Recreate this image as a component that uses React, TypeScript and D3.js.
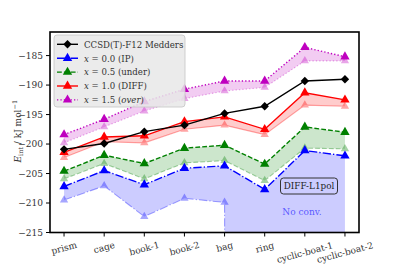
import * as d3 from 'd3';

// structures of the water hexamer
const structures = ['prism', 'cage', 'book-1', 'book-2', 'bag', 'ring', 'cyclic-boat-1', 'cyclic-boat-2'];

// reference energies (kJ/mol)
const medders = [-200.9, -199.9, -197.9, -196.8, -194.8, -193.6, -189.3, -189.0];

// dark = DIFF-L1pol, light = without polarisation (null = no convergence)
const ipDark = [-207.2, -204.5, -206.9, -204.1, -203.7, -207.7, -201.1, -202.0];
const ipLight: (number | null)[] = [-209.5, -207.1, -212.3, -209.2, -209.9, null, null, null];
const underDark = [-204.6, -201.9, -203.3, -200.7, -200.2, -203.4, -197.1, -198.0];
const underLight = [-205.9, -203.3, -205.9, -203.2, -202.8, -206.2, -200.7, -200.8];
const diffDark = [-201.4, -198.8, -198.6, -196.2, -195.4, -197.5, -191.3, -192.5];
const diffLight = [-202.3, -199.6, -199.8, -197.5, -196.8, -198.4, -193.4, -193.6];
const overDark = [-198.4, -195.8, -192.8, -190.7, -189.3, -189.3, -183.6, -185.2];
const overLight = [-199.8, -197.1, -194.4, -192.3, -191.0, -190.4, -185.9, -185.9];

const yTicks = [-215, -210, -205, -200, -195, -190, -185];

const series = [
    { label: 'x = 0.0', tag: '(IP)', color: '#0000ff', fill: 'rgba(0,0,255,0.2)', dash: '8.3,2.1,1.3,2.1', dark: ipDark, light: ipLight },
    { label: 'x = 0.5', tag: '(under)', color: '#008000', fill: 'rgba(0,128,0,0.2)', dash: '4.8,2.1', dark: underDark, light: underLight },
    { label: 'x = 1.0', tag: '(DIFF)', color: '#ff0000', fill: 'rgba(255,0,0,0.2)', dash: '', dark: diffDark, light: diffLight },
    { label: 'x = 1.5', tag: '(over)', color: '#bf00bf', fill: 'rgba(191,0,191,0.2)', dash: '1.3,2.1', dark: overDark, light: overLight },
];

const W = 399, H = 266;
const margin = { left: 50, right: 40, top: 32, bottom: 33.5 };
const font = "'DejaVu Serif', serif";

const tri = d3.symbol().type(d3.symbolTriangle).size(38)()!;
const triSmall = d3.symbol().type(d3.symbolTriangle).size(30)()!;
const diamond = 'M0,-4.2L4.2,0L0,4.2L-4.2,0Z';

export default function App() {
    const x = d3.scaleLinear().domain([-0.35, structures.length - 1 + 0.35]).range([margin.left, W - margin.right]);
    const y = d3.scaleLinear().domain([-215, -181]).range([H - margin.bottom, margin.top]);
    // "no conv." points are pushed far below the axis, like the original plot
    const floor = y.domain()[0] - 3000;
    const val = (v: number | null) => (v === null ? floor : v);

    const line = d3.line<number | null>().x((_, i) => x(i)).y(d => y(val(d)));
    const band = (a: number[], b: (number | null)[]) =>
        d3.area<number>().x((_, i) => x(i)).y0((_, i) => y(val(b[i]))).y1(d => y(d))(a)!;

    const x0 = x.range()[0], x1 = x.range()[1];
    const y0 = y.range()[1], y1 = y.range()[0];

    return (
        <svg width={W} height={H} style={{ position: 'absolute', left: 0, top: 0 }}>
            <defs>
                <clipPath id="plot"><rect x={x0} y={y0} width={x1 - x0} height={y1 - y0} /></clipPath>
            </defs>
            <rect width={W} height={H} fill="white" />
            <g clipPath="url(#plot)">
                {series.map(s => (
                    <path key={'f' + s.label} d={band(s.dark, s.light)} fill={s.fill} stroke="none" />
                ))}
                {series.map(s => (
                    <g key={'l' + s.label} opacity={0.35}>
                        <path d={line(s.light)!} fill="none" stroke={s.color} strokeWidth={1.1} strokeDasharray={s.dash} />
                        {s.light.map((v, i) => v === null ? null : (
                            <path key={i} d={triSmall} transform={`translate(${x(i)},${y(v)})`} fill={s.color} />
                        ))}
                    </g>
                ))}
                {series.map(s => (
                    <g key={'d' + s.label}>
                        <path d={line(s.dark)!} fill="none" stroke={s.color} strokeWidth={1.4} strokeDasharray={s.dash} />
                        {s.dark.map((v, i) => (
                            <path key={i} d={tri} transform={`translate(${x(i)},${y(v)})`} fill={s.color} />
                        ))}
                    </g>
                ))}
                <path d={line(medders)!} fill="none" stroke="black" strokeWidth={1.4} />
                {medders.map((v, i) => (
                    <path key={i} d={diamond} transform={`translate(${x(i)},${y(v)})`} fill="black" />
                ))}
            </g>

            <g style={{ fontFamily: font }}>
                {/* annotations */}
                <rect x={280.5} y={178} width={57} height={16} rx={3} fill="none" stroke="#333" strokeWidth={1} />
                <text x={309} y={189.2} fontSize={8.8} textAnchor="middle" fill="#222">DIFF-L1pol</text>
                <text x={302} y={215} fontSize={9} textAnchor="middle" fill="rgba(0,0,255,0.6)">No conv.</text>

                {/* legend */}
                <rect x={54} y={35} width={131} height={72} rx={3} fill="rgba(232,232,232,0.85)" stroke="#c4c4c4" strokeWidth={0.8} />
                {[{ label: 'CCSD(T)-F12 Medders', color: 'black', dash: '', tag: '' }, ...series].map((s, k) => {
                    const ly = 44.3 + k * 13.9;
                    return (
                        <g key={k}>
                            <line x1={57} x2={78} y1={ly} y2={ly} stroke={s.color} strokeWidth={1.4} strokeDasharray={s.dash} />
                            <path d={k === 0 ? diamond : tri} transform={`translate(67.5,${ly})`} fill={s.color} />
                            {k === 0 ? (
                                <text x={84} y={ly + 3.3} fontSize={8.6} fill="#333">{s.label}</text>
                            ) : (
                                <text x={84} y={ly + 3.3} fontSize={8.6} fill="#333">
                                    <tspan fontStyle="italic">x</tspan>
                                    {' ' + s.label.slice(2) + ' '}
                                    {s.tag === '(over)' ? (
                                        <>(<tspan fontStyle="italic">over</tspan>)</>
                                    ) : s.tag}
                                </text>
                            )}
                        </g>
                    );
                })}

                {/* frame */}
                <rect x={x0} y={y0} width={x1 - x0} height={y1 - y0} fill="none" stroke="black" strokeWidth={1.6} />

                {/* y axis */}
                {yTicks.map(t => (
                    <g key={t} transform={`translate(${x0},${y(t)})`}>
                        <line x1={-4} x2={0} stroke="black" strokeWidth={1} />
                        <text x={-7} dy="0.35em" fontSize={9} textAnchor="end" fill="#333">{'\u2212' + Math.abs(t)}</text>
                    </g>
                ))}
                <text transform={`translate(21,${(y0 + y1) / 2 - 1}) rotate(-90)`} fontSize={9} textAnchor="middle" fill="#333">
                    <tspan fontStyle="italic">E</tspan>
                    <tspan fontSize={6.5} dy={2}>int</tspan>
                    <tspan dy={-2}>{' / kJ mol'}</tspan>
                    <tspan fontSize={6.5} dy={-4}>{'\u22121'}</tspan>
                </text>

                {/* x axis */}
                {structures.map((s, i) => {
                    const w = s.length * 4.3;
                    const half = (w / 2) * Math.sin(Math.PI / 12) + 4.3 * Math.cos(Math.PI / 12);
                    return (
                        <g key={s}>
                            <line x1={x(i)} x2={x(i)} y1={y1} y2={y1 + 4} stroke="black" strokeWidth={1} />
                            <text transform={`translate(${x(i)},${y1 + 8.5 + half}) rotate(-15)`} dy="0.35em" fontSize={9} textAnchor="middle" fill="#333">{s}</text>
                        </g>
                    );
                })}
            </g>
        </svg>
    );
}
